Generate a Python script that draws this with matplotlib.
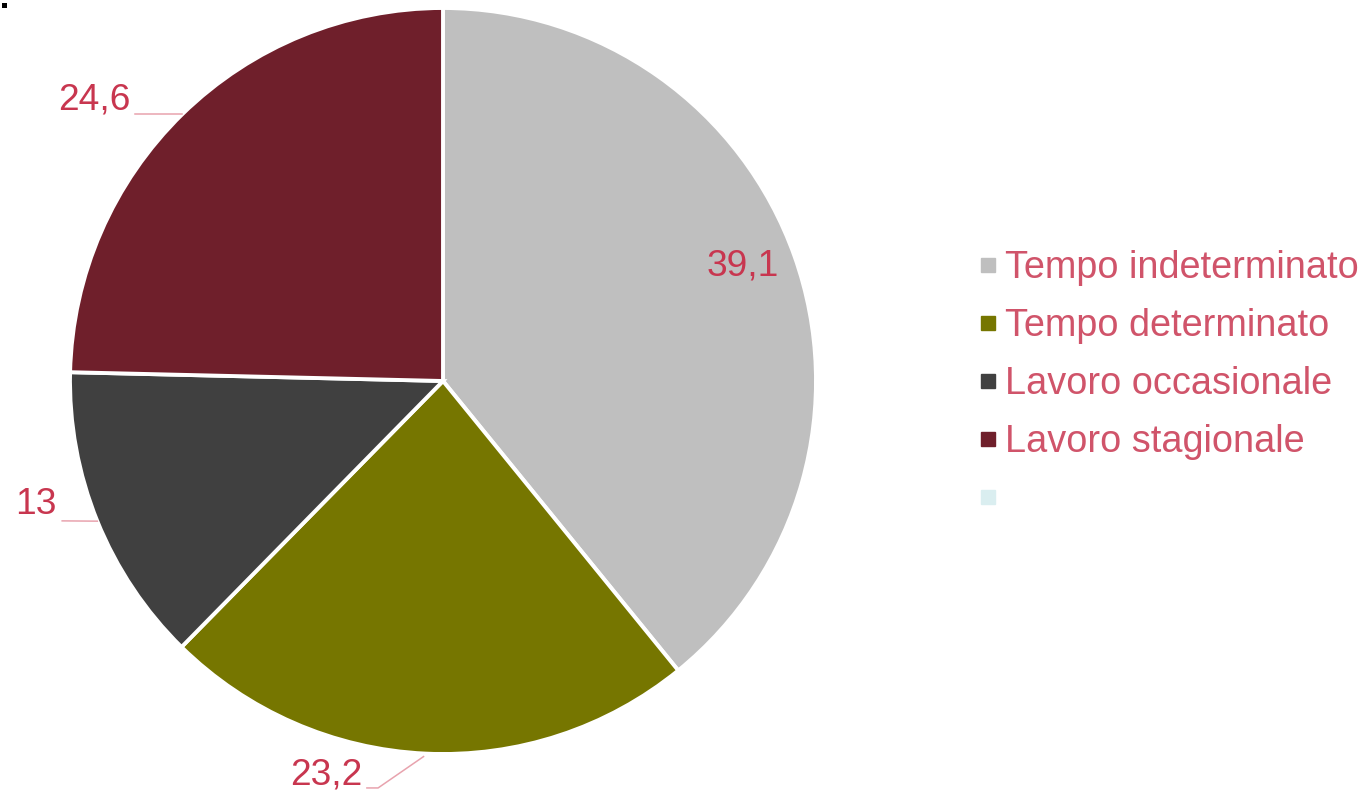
import numpy as np
import matplotlib
matplotlib.use('Agg')
import matplotlib.pyplot as plt
from matplotlib.lines import Line2D
from matplotlib.patches import Rectangle

# Dati
categorie = ['Tempo indeterminato', 'Tempo determinato', 'Lavoro occasionale', 'Lavoro stagionale']
valori = [39.1, 23.2, 13, 24.6]
etichette = ['39,1', '23,2', '13', '24,6']
legenda = categorie + ['']
colori = ['#BFBFBF', '#767600', '#404040', '#6F1F2B', '#DAEEF0']

plt.rcParams['font.family'] = ['Liberation Sans', 'DejaVu Sans']
col_val = '#C8364F'
col_leg = '#D0546A'
col_linea = '#E8A3AE'
fs = 26.7

W, H = 1366, 794
fig = plt.figure(figsize=(W / 100, H / 100), dpi=100)
cx, cy, r = 443, 381, 373
ax = fig.add_axes([(cx - r) / W, (H - cy - r) / H, 2 * r / W, 2 * r / H])

wedges, _ = ax.pie(valori, colors=colori[:4], startangle=90, counterclock=False,
                   radius=1, wedgeprops=dict(edgecolor='white', linewidth=2.8))
ax.set_xlim(-1, 1)
ax.set_ylim(-1, 1)
ax.set_aspect('equal')
ax.axis('off')

# Etichette dei valori
for w, lab in zip(wedges, etichette):
    ang = np.deg2rad((w.theta1 + w.theta2) / 2)
    ex, ey = np.cos(ang), np.sin(ang)
    if lab == '39,1':
        ax.text(0.86 * np.cos(np.deg2rad(21)), 0.86 * np.sin(np.deg2rad(21)), lab,
                ha='center', va='center', fontsize=fs, color=col_val)
    elif lab == '24,6':
        ax.text(-0.839, 0.753, lab, ha='right', va='center', fontsize=fs, color=col_val)
        ax.plot([-0.825, ex], [ey, ey], color=col_linea, lw=1.1, clip_on=False)
    elif lab == '13':
        ax.text(-1.035, -0.332, lab, ha='right', va='center', fontsize=fs, color=col_val)
        ax.plot([-1.021, ex], [-0.375, ey], color=col_linea, lw=1.1, clip_on=False)
    else:
        ax.text(-0.217, -1.056, lab, ha='right', va='center', fontsize=fs, color=col_val)
        ax.plot([-0.204, -0.174, ex - 0.005], [-1.091, -1.091, ey - 0.008],
                color=col_linea, lw=1.1, clip_on=False)

# Legenda
handles = [Line2D([], [], marker='s', linestyle='none', markersize=10,
                  markerfacecolor=c, markeredgecolor=c) for c in colori]
leg = fig.legend(handles, legenda, loc='center left', bbox_to_anchor=(0.7035, 0.5158),
                 frameon=False, fontsize=27.3, labelcolor=col_leg, handlelength=0.4,
                 handletextpad=0.25, labelspacing=0.58, borderpad=0)

# piccolo quadratino in alto a sinistra
fig.patches.append(Rectangle((2 / W, 1 - 8 / H), 5 / W, 5 / H, transform=fig.transFigure,
                             facecolor='black', edgecolor='none'))

fig.savefig('out.png', dpi=100, facecolor='white')
